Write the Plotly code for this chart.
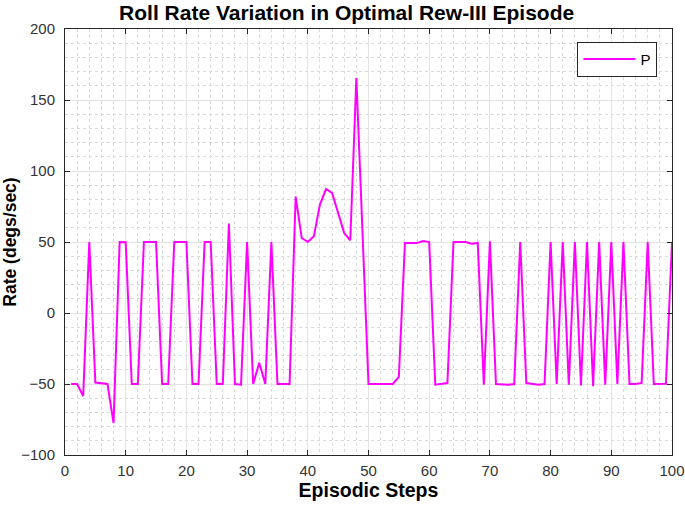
import plotly.graph_objects as go

steps = list(range(1, 101))
roll_rate = [
    -50, -50, -58.5, 50, -49, -49.5, -50, -77.5, 50, 49.8,
    -50, -50, 50, 50, 50, -50, -50, 50, 50, 50,
    -50, -50, 50, 50, -50, -50, 63, -50, -50.5, 50,
    -50, -35, -50, 50, -50, -50, -50, 82, 52.8, 50,
    54, 76.3, 87.3, 84.5, 70.4, 56.3, 51.2, 165.5, 58, -50,
    -50, -50, -50, -50, -45, 49.3, 49.3, 49.3, 50.7, 50,
    -50.5, -50, -49.3, 50, 50, 50, 48.8, 49.3, -50.5, 50.5,
    -50, -50.5, -50.5, -50, 50, -49.3, -50, -50.5, -50, 50,
    -50, 50, -50.5, 50, -51, 50, -51.6, 50, -50.5, 50,
    -50, 50, -50, -50, -49.3, 50, -50, -49.8, -49.8, 50,
]
x_ticks = list(range(0, 101, 10))
y_ticks = [-100, -50, 0, 50, 100, 150, 200]

FONT = "Liberation Sans, Arial, sans-serif"
AX = "#262626"

fig = go.Figure()
fig.add_trace(go.Scatter(x=steps, y=roll_rate, mode="lines", name="P",
                         line=dict(color="#ff00ff", width=2)))

axis_common = dict(
    showline=True, linecolor=AX, linewidth=1, mirror="ticks",
    ticks="inside", ticklen=5, tickcolor=AX, tickwidth=1,
    showgrid=True, gridcolor="#e3e3e3", gridwidth=1,
    zeroline=False, automargin=False,
    tickfont=dict(family=FONT, size=15, color="#333333"),
)

fig.update_xaxes(range=[0, 100], tickvals=x_ticks, **axis_common,
                 ticklabelstandoff=2,
                 minor=dict(dtick=2, showgrid=True, gridcolor="#dadada",
                            griddash="dot", gridwidth=1, ticks=""),
                 title=dict(text="<b>Episodic Steps</b>",
                            font=dict(family=FONT, size=19.5, color="black"),
                            standoff=5))
fig.update_yaxes(range=[-100, 200], tickvals=y_ticks, **axis_common,
                 ticklabelstandoff=6,
                 minor=dict(dtick=10, showgrid=True, gridcolor="#dadada",
                            griddash="dot", gridwidth=1, ticks=""),
                 title=dict(text="<b>Rate (degs/sec)</b>",
                            font=dict(family=FONT, size=17.5, color="black"),
                            standoff=4))

fig.update_layout(
    width=685, height=511,
    margin=dict(l=65, r=13, t=29, b=56),
    paper_bgcolor="white", plot_bgcolor="white",
    title=dict(text="<b>Roll Rate Variation in Optimal Rew-III Episode</b>",
               font=dict(family=FONT, size=21, color="black"),
               x=0.506, xanchor="center", yref="container",
               y=1 - 13 / 511, yanchor="middle", automargin=False),
    showlegend=True,
    legend=dict(x=0.976, y=0.97, xanchor="right", yanchor="top",
                bgcolor="white", bordercolor=AX, borderwidth=1,
                itemwidth=52, tracegroupgap=0,
                font=dict(family=FONT, size=15, color="black")),
)

fig.write_html("out.html", config={"displayModeBar": False},
               post_script="document.body.style.margin='0';document.body.style.overflow='hidden';")
